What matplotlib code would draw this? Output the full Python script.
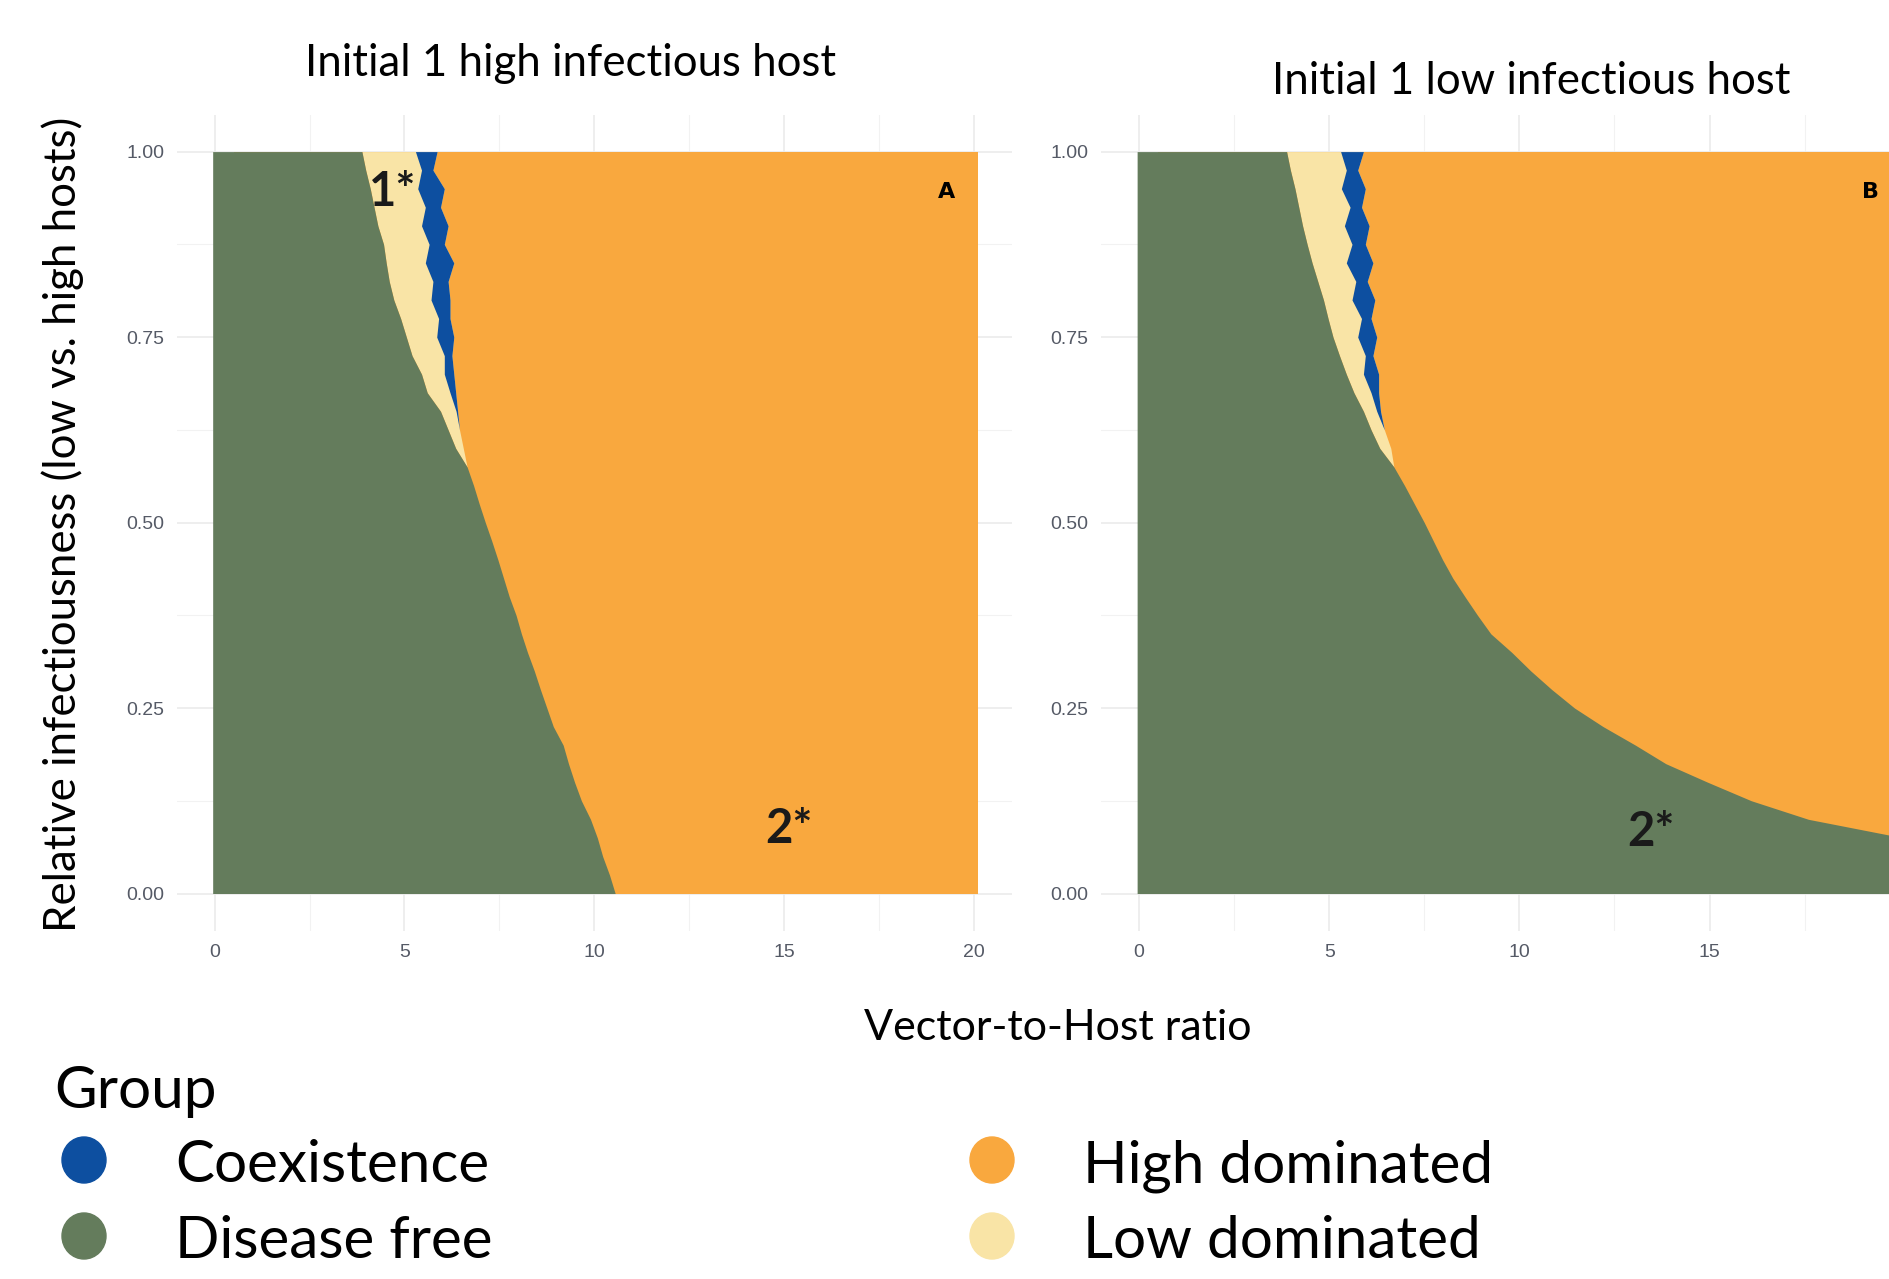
import numpy as np
import matplotlib.pyplot as plt
from matplotlib.patches import Ellipse

# relative infectiousness rows at which the region edges were read
y_rows = np.linspace(0, 1, 41)
y_band = y_rows[23:]  # 0.575 .. 1.00, rows where low dominated / coexistence show up

# panel A (initial 1 high infectious host)
a_free_edge = [10.55, 10.40, 10.22, 10.08, 9.90, 9.66, 9.48, 9.32, 9.18, 8.92,
               8.75, 8.58, 8.42, 8.24, 8.08, 7.94, 7.76, 7.61, 7.46, 7.30,
               7.13, 6.97, 6.82, 6.65, 6.35, 6.15, 5.95, 5.60, 5.45, 5.20,
               5.05, 4.90, 4.72, 4.60, 4.52, 4.45, 4.30, 4.20, 4.10, 3.98, 3.88]
a_low_edge = [6.65, 6.55, 6.45, 6.36, 6.20, 6.05, 6.05, 5.85, 5.90, 5.70,
              5.75, 5.55, 5.65, 5.45, 5.55, 5.35, 5.45, 5.29]
a_coex_edge = [6.65, 6.55, 6.45, 6.40, 6.35, 6.30, 6.25, 6.30, 6.20, 6.20,
               6.15, 6.30, 6.05, 6.15, 5.95, 6.05, 5.75, 5.86]

# panel B (initial 1 low infectious host)
b_free_edge = [20.10, 20.10, 20.10, 20.10, 17.60, 16.10, 14.95, 13.85, 13.05, 12.20,
               11.45, 10.85, 10.30, 9.80, 9.25, 8.90, 8.57, 8.25, 7.98, 7.74,
               7.50, 7.24, 6.98, 6.70, 6.33, 6.10, 5.90, 5.65, 5.45, 5.27,
               5.10, 4.97, 4.85, 4.70, 4.55, 4.42, 4.30, 4.20, 4.10, 3.98, 3.88]
b_low_edge = [6.70, 6.62, 6.45, 6.25, 6.10, 5.90, 5.95, 5.75, 5.85, 5.60,
              5.70, 5.45, 5.60, 5.40, 5.55, 5.32, 5.45, 5.30]
b_coex_edge = [6.70, 6.62, 6.45, 6.35, 6.30, 6.30, 6.15, 6.25, 6.10, 6.20,
               6.00, 6.15, 5.95, 6.05, 5.85, 5.95, 5.75, 5.90]

groups = ["Coexistence", "Disease free", "High dominated", "Low dominated"]
group_colors = ["#0d4fa0", "#647c5c", "#f9a83e", "#f9e4a6"]
col = dict(zip(groups, group_colors))

x_ticks = [0, 5, 10, 15, 20]
y_ticks = [0, 0.25, 0.5, 0.75, 1.0]
y_ticklabels = ["0.00", "0.25", "0.50", "0.75", "1.00"]

W, H = 1890, 1279
fig = plt.figure(figsize=(W / 100, H / 100), dpi=100)
txt_font = ["Lato", "DejaVu Sans"]
tick_font = ["Liberation Sans", "DejaVu Sans"]


def fx(px):
    return px / W


def fy(py):
    return 1 - py / H


def draw_panel(ax, free_edge, low_edge, coex_edge):
    x0, x1 = -0.05, 20.1
    free_edge = np.array(free_edge)
    ax.fill_betweenx(y_rows, 0.5, x1, color=col["High dominated"], lw=0, zorder=2)
    ax.fill_betweenx(y_band, free_edge[23:], coex_edge, color=col["Low dominated"], lw=0, zorder=3)
    ax.fill_betweenx(y_band, low_edge, coex_edge, color=col["Coexistence"], lw=0, zorder=4)
    ax.fill_betweenx(y_rows, x0, free_edge, color=col["Disease free"], lw=0, zorder=5)

    ax.set_xlim(-1, 21)
    ax.set_ylim(-0.05, 1.05)
    ax.set_xticks(x_ticks)
    ax.set_xticks([2.5, 7.5, 12.5, 17.5], minor=True)
    ax.set_yticks(y_ticks)
    ax.set_yticklabels(y_ticklabels)
    ax.set_yticks([0.125, 0.375, 0.625, 0.875], minor=True)
    ax.grid(True, which="major", color="#ebebeb", lw=1.2)
    ax.grid(True, which="minor", color="#f2f2f2", lw=0.8)
    ax.set_axisbelow(True)
    for s in ax.spines.values():
        s.set_visible(False)
    ax.tick_params(which="both", length=0, labelsize=14, labelcolor="#555a66")
    ax.tick_params(axis="x", pad=10)
    ax.tick_params(axis="y", pad=9)
    for lab in ax.get_xticklabels() + ax.get_yticklabels():
        lab.set_family(tick_font)


ax1 = fig.add_axes([fx(176.6), fy(930.6), fx(1012) - fx(176.6), fy(114.5) - fy(930.6)])
ax2 = fig.add_axes([fx(1101), fy(930.6), fx(1937.7) - fx(1101), fy(114.5) - fy(930.6)])
draw_panel(ax1, a_free_edge, a_low_edge, a_coex_edge)
draw_panel(ax2, b_free_edge, b_low_edge, b_coex_edge)

# panel marks
ax1.text(19.27, 0.945, "A", fontsize=16, fontweight="bold", ha="center", va="center", zorder=10)
ax2.text(19.22, 0.945, "B", fontsize=16, fontweight="bold", ha="center", va="center", zorder=10)
star_kw = dict(fontsize=34, fontweight="bold", family=txt_font, color="#1a1a1a",
               ha="center", va="center", zorder=10)
ax1.text(4.68, 0.945, "1*", **star_kw)
ax1.text(15.13, 0.087, "2*", **star_kw)
ax2.text(13.46, 0.083, "2*", **star_kw)

# titles and axis labels
fig.text(fx(571), fy(64), "Initial 1 high infectious host", fontsize=31.5, family=txt_font,
         ha="center", va="center")
fig.text(fx(1531), fy(81), "Initial 1 low infectious host", fontsize=31.5, family=txt_font,
         ha="center", va="center")
fig.text(fx(1058), fy(1028), "Vector-to-Host ratio", fontsize=31, family=txt_font,
         ha="center", va="center")
fig.text(fx(63), fy(524), "Relative infectiousness (low vs. high hosts)", fontsize=31.5,
         family=txt_font, rotation=90, ha="center", va="center")

# legend
fig.text(fx(54), fy(1091), "Group", fontsize=42, family=txt_font, ha="left", va="center")
leg_x = [84, 84, 992, 992]
leg_y = [1160, 1236, 1160, 1236]
for g, c, lx, ly in zip(groups, group_colors, leg_x, leg_y):
    fig.patches.append(Ellipse((fx(lx), fy(ly)), 44 / W, 46 / H, transform=fig.transFigure,
                               color=c, figure=fig))
    fig.text(fx(lx + 91), fy(ly + 6), g, fontsize=42, family=txt_font, ha="left", va="center")

fig.savefig("out.png", dpi=100)
